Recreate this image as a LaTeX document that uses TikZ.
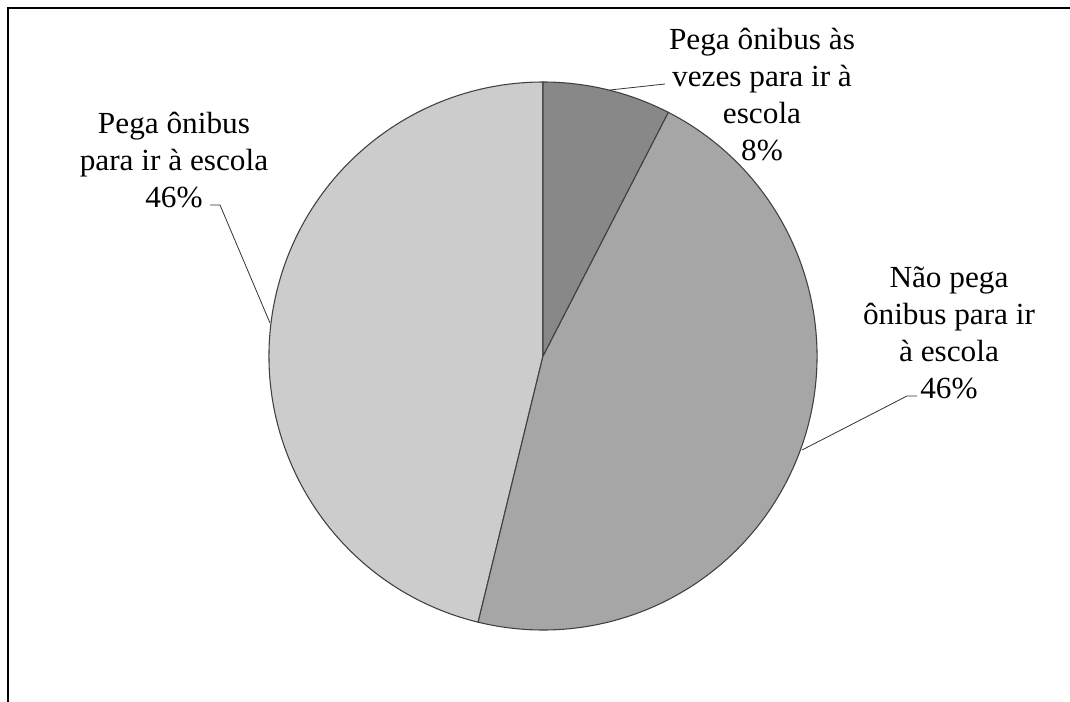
\documentclass[tikz,border=0pt]{standalone}
\usepackage{fontspec}
\setmainfont{Liberation Serif}[FakeStretch=1.02]
\definecolor{sdark}{HTML}{888888}
\definecolor{smid}{HTML}{A6A6A6}
\definecolor{slight}{HTML}{CCCCCC}
\definecolor{edge}{HTML}{404040}
\begin{document}
\begin{tikzpicture}[x=0.75pt,y=-0.75pt,
  slice/.style={draw=edge,line width=0.8pt,line join=round},
  leader/.style={draw=black!80,line width=0.6pt},
  lbl/.style={align=center,inner sep=0pt,font=\fontsize{23}{27.75}\selectfont},
  frame/.style={line width=1.6pt,black}]
\useasboundingbox (0,0) rectangle (1070,702);
\draw[frame] (8,702) -- (8,8) -- (1070,8);
\coordinate (c) at (543,356);
\filldraw[slice,fill=slight] (c) -- ++(103.7:274) arc[start angle=103.7,end angle=270,radius=274] -- cycle;
\filldraw[slice,fill=smid] (c) -- ++(-62.8:274) arc[start angle=-62.8,end angle=103.7,radius=274] -- cycle;
\filldraw[slice,fill=sdark] (c) -- ++(-90:274) arc[start angle=-90,end angle=-62.8,radius=274] -- cycle;
\node[lbl] (ltop) at (762,95) {Pega ônibus às\\vezes para ir à\\escola\\8\%};
\node[lbl] (lleft) at (174,160) {Pega ônibus\\para ir à escola\\46\%};
\node[lbl] (lright) at (949,333) {Não pega\\ônibus para ir\\à escola\\46\%};
\coordinate (ta) at (610,90);
\coordinate (tb) at (665,84);
\coordinate (la) at (270,323);
\coordinate (lb) at (220,205);
\coordinate (lc) at (210,205);
\coordinate (ra) at (802,450);
\coordinate (rb) at (907,396);
\coordinate (rc) at (917,396);
\draw[leader] (ta) -- (tb);
\draw[leader] (la) -- (lb) -- (lc);
\draw[leader] (ra) -- (rb) -- (rc);
\end{tikzpicture}
\end{document}
